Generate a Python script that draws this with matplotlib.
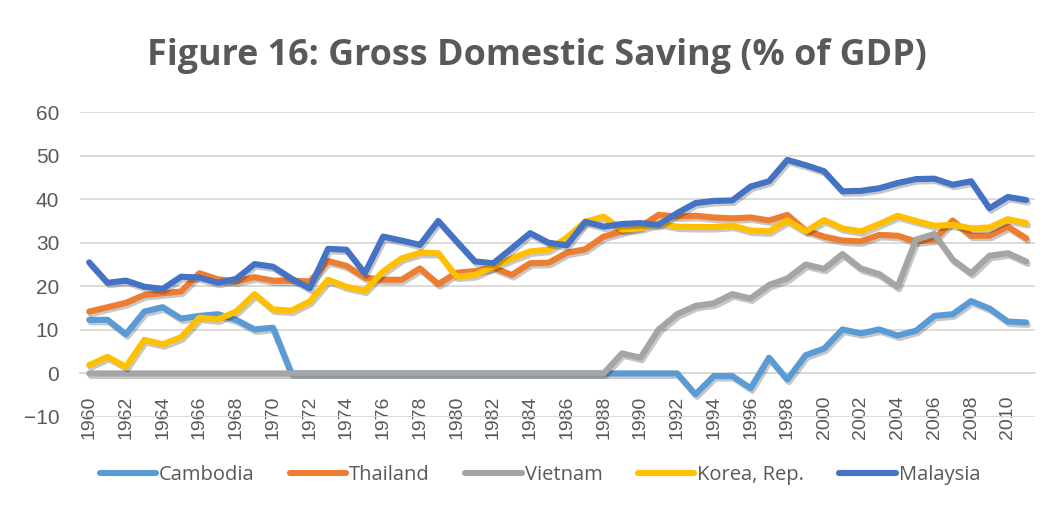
import numpy as np
import matplotlib
matplotlib.use("Agg")
import matplotlib.pyplot as plt
import matplotlib.patheffects as pe

# gross domestic saving, % of GDP, 1960-2011
years = list(range(1960, 2012))
cambodia = [12.3, 12.3, 9.0, 14.2, 15.2, 12.6, 13.2, 13.6, 12.3, 10.1,
            10.5, 0, 0, 0, 0, 0, 0, 0, 0, 0,
            0, 0, 0, 0, 0, 0, 0, 0, 0, 0,
            0, 0, 0, -4.8, -0.6, -0.6, -3.4, 3.6, -1.4, 4.2,
            5.7, 10.1, 9.2, 10.1, 8.7, 9.8, 13.2, 13.6, 16.6, 14.9,
            11.9, 11.7]
thailand = [14.2, 15.2, 16.2, 18.0, 18.4, 18.8, 23.0, 21.6, 21.1, 22.1,
            21.3, 21.3, 21.1, 25.8, 24.7, 22.0, 21.5, 21.5, 24.1, 20.5,
            23.1, 23.5, 24.3, 22.6, 25.3, 25.4, 27.7, 28.5, 31.4, 32.6,
            33.7, 36.4, 36.0, 36.2, 35.8, 35.6, 35.8, 35.1, 36.4, 32.8,
            31.4, 30.5, 30.3, 31.8, 31.6, 30.3, 30.7, 35.1, 31.6, 31.6,
            33.7, 31.0]
vietnam = [0, 0, 0, 0, 0, 0, 0, 0, 0, 0,
           0, 0, 0, 0, 0, 0, 0, 0, 0, 0,
           0, 0, 0, 0, 0, 0, 0, 0, 0, 4.6,
           3.6, 10.1, 13.6, 15.5, 16.1, 18.2, 17.2, 20.3, 21.8, 25.0,
           24.0, 27.4, 24.1, 22.8, 19.9, 30.7, 32.0, 26.1, 23.0, 27.0,
           27.6, 25.7]
korea = [1.9, 3.8, 1.5, 7.7, 6.7, 8.3, 12.8, 12.4, 14.2, 18.2,
         14.7, 14.4, 16.5, 21.5, 19.9, 19.0, 23.4, 26.4, 27.7, 27.6,
         22.2, 22.6, 24.5, 26.4, 28.0, 28.4, 31.2, 34.8, 36.0, 33.0,
         33.3, 34.5, 33.7, 33.6, 33.6, 33.9, 32.8, 32.6, 35.1, 32.6,
         35.2, 33.3, 32.6, 34.3, 36.2, 35.0, 33.9, 34.1, 33.3, 33.5,
         35.4, 34.5]
malaysia = [25.5, 20.8, 21.3, 19.9, 19.4, 22.2, 22.0, 20.8, 21.7, 25.1,
            24.5, 21.8, 19.5, 28.6, 28.4, 23.0, 31.4, 30.5, 29.5, 35.0,
            30.3, 25.7, 25.3, 28.7, 32.2, 30.0, 29.4, 34.8, 33.7, 34.3,
            34.5, 34.1, 36.8, 39.1, 39.6, 39.7, 42.9, 44.1, 49.0, 47.8,
            46.4, 41.8, 41.9, 42.5, 43.7, 44.6, 44.7, 43.3, 44.1, 37.9,
            40.5, 39.8]

names = ["Cambodia", "Thailand", "Vietnam", "Korea, Rep.", "Malaysia"]
series = [cambodia, thailand, vietnam, korea, malaysia]
colors = ["#5B9BD5", "#ED7D31", "#A5A5A5", "#FFC000", "#4472C4"]
yticks = [-10, 0, 10, 20, 30, 40, 50, 60]

txt = "#595959"
fig = plt.figure(figsize=(10.63, 5.09), dpi=100)
ax = fig.add_axes([80/1063, 1 - 417/509, (1035.4 - 80)/1063, (417 - 112)/509])

# category axis crosses at 0 (set first: moving the spine resets the ticks)
for s in ["top", "right", "left"]:
    ax.spines[s].set_visible(False)
ax.spines["bottom"].set_position(("data", 0))
ax.spines["bottom"].set_color("#d9d9d9")
ax.spines["bottom"].set_linewidth(1.3)

x = np.arange(len(years))
shadow = [pe.SimpleLineShadow(offset=(1.2, -1.8), shadow_color="k", alpha=0.22),
          pe.Normal()]
for name, vals, c in zip(names, series, colors):
    ax.plot(x, vals, color=c, lw=4.4, label=name, solid_joinstyle="round",
            solid_capstyle="round", path_effects=shadow, zorder=3)

ax.set_xlim(-0.5, len(years) - 0.5)
ax.set_ylim(-10, 60)
ax.set_yticks(yticks)
ax.set_xticks(x[::2])
ax.set_xticklabels([str(y) for y in years[::2]])
ax.tick_params(axis="y", length=0, pad=15, labelsize=15, labelcolor=txt)
ax.tick_params(axis="x", length=0, pad=16, labelsize=14, labelcolor=txt,
               labelrotation=90)
for lab in ax.get_xticklabels() + ax.get_yticklabels():
    lab.set_family("Liberation Sans")
ax.grid(axis="y", color="#d9d9d9", lw=1.3, zorder=0)

fig.text(536.5/1063, 1 - 65/509, "Figure 16: Gross Domestic Saving (% of GDP)",
         ha="center", va="baseline", family="Open Sans", fontweight="bold",
         fontsize=25.8, color=txt)

leg = fig.legend(loc="center", bbox_to_anchor=(540/1063, 1 - 475/509), ncol=5,
                 frameon=False, prop={"family": "Open Sans", "size": 14.5},
                 handlelength=2.8, handletextpad=0.15, columnspacing=1.75)
for t in leg.get_texts():
    t.set_color(txt)
for h in leg.get_lines():
    h.set_linewidth(4.4)
    h.set_solid_capstyle("round")
    h.set_path_effects([])

fig.savefig("out.png", dpi=100)
